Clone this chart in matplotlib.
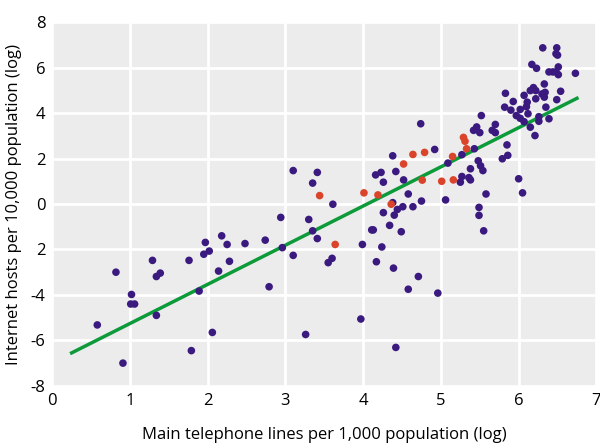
import matplotlib
matplotlib.use('Agg')
import matplotlib.pyplot as plt

# Purple points: telephone lines (log) vs internet hosts (log)
purple_x = [0.58, 0.82, 0.91, 1.02, 1.01, 1.06, 1.29, 1.34, 1.39, 1.34, 1.76, 1.79, 1.89,
            1.95, 1.97, 2.02, 2.06, 2.14, 2.18, 2.25, 2.28, 2.48, 2.74, 2.79, 2.94, 2.96,
            3.10, 3.10, 3.26, 3.30, 3.35, 3.35, 3.41, 3.41, 3.61, 3.55, 3.60, 3.97, 3.99,
            4.17, 4.11, 4.13, 4.24, 4.16, 4.23, 4.26, 4.26, 4.34, 4.38, 4.40, 4.44, 4.38,
            4.42, 4.39, 4.42, 4.52, 4.49, 4.51, 4.58, 4.58, 4.64, 4.71, 4.74, 4.75, 4.92,
            4.96, 5.06, 5.09, 5.25, 5.27, 5.27, 5.36, 5.38, 5.38, 5.43, 5.42, 5.46, 5.50,
            5.52, 5.48, 5.51, 5.54, 5.58, 5.49, 5.49, 5.55, 5.66, 5.70, 5.70, 5.79, 5.85,
            5.86, 5.82, 5.83, 5.90, 5.93, 5.97, 6.02, 6.02, 6.00, 6.05, 6.07, 6.07, 6.11,
            6.12, 6.10, 6.17, 6.15, 6.19, 6.22, 6.23, 6.15, 6.21, 6.22, 6.26, 6.26, 6.31,
            6.33, 6.34, 6.30, 6.33, 6.35, 6.39, 6.39, 6.44, 6.48, 6.51, 6.51, 6.49, 6.48,
            6.50, 6.49, 6.54, 6.73]
purple_y = [-5.32, -3.00, -7.00, -3.98, -4.40, -4.40, -2.48, -3.19, -3.04, -4.90, -2.48, -6.45, -3.83,
            -2.21, -1.69, -2.07, -5.65, -2.95, -1.40, -1.78, -2.52, -1.74, -1.59, -3.64, -0.59, -1.92,
            1.47, -2.26, -5.74, -0.68, -1.18, 0.92, 1.39, -1.52, -0.01, -2.58, -2.39, -5.06, -1.78,
            -2.54, -1.14, -1.14, -1.89, 1.28, 1.39, 0.96, -0.38, -0.94, 0.06, -0.49, -0.24, 2.12,
            1.43, -2.82, -6.31, 1.06, -1.22, -0.12, 0.44, -3.75, -0.12, -3.19, 3.53, 0.13, 2.40,
            -3.92, 0.18, 1.80, 0.96, 1.21, 2.17, 1.16, 1.06, 1.55, 2.43, 3.24, 3.39, 3.14,
            3.89, 1.90, 1.68, 1.47, 0.44, -0.15, -0.50, -1.18, 3.24, 3.50, 3.14, 1.99, 2.60,
            2.14, 4.26, 4.87, 4.13, 4.51, 3.89, 3.77, 4.16, 1.11, 0.49, 3.62, 4.78, 4.48,
            3.97, 4.28, 6.14, 4.99, 5.12, 4.99, 5.97, 3.38, 3.01, 4.63, 3.84, 3.64, 6.87,
            5.28, 4.91, 4.84, 4.70, 4.26, 3.75, 5.81, 5.81, 5.81, 6.03, 5.69, 6.87, 6.61,
            6.55, 4.59, 4.96, 5.75]

# Red (highlighted) points
red_x = [3.44, 3.64, 4.01, 4.19, 4.36, 4.52, 4.64, 4.76, 4.79, 5.01, 5.15, 5.16, 5.29, 5.31, 5.33]
red_y = [0.37, -1.78, 0.49, 0.40, -0.01, 1.76, 2.18, 1.05, 2.27, 1.00, 2.09, 1.06, 2.93, 2.76, 2.43]

# Fitted line end points
fit_x = [0.25, 6.75]
fit_y = [-6.55, 4.65]

x_ticks = [0, 1, 2, 3, 4, 5, 6, 7]
y_ticks = [8, 6, 4, 2, 0, -2, -4, -6, -8]
y_tick_labels = ['8', '6', '4', '2', '0', '2', '-4', '-6', '-8']

plt.rcParams['font.family'] = ['Open Sans', 'DejaVu Sans']

fig = plt.figure(figsize=(6, 4.43), dpi=100)
ax = fig.add_axes([0.087, 0.129, 0.907, 0.821])
ax.set_facecolor('#ececec')

ax.plot(fit_x, fit_y, color='#0d9a3a', linewidth=2.5, zorder=2)
ax.scatter(purple_x, purple_y, s=30, color='#3b1a80', edgecolors='none', zorder=3)
ax.scatter(red_x, red_y, s=30, color='#d9442b', edgecolors='none', zorder=3)

ax.set_xlim(0, 7)
ax.set_ylim(-8, 8)
ax.set_xticks(x_ticks)
ax.set_yticks(y_ticks)
ax.set_yticklabels(y_tick_labels)
ax.grid(True, color='white', linewidth=2)
ax.set_axisbelow(True)
for s in ax.spines.values():
    s.set_visible(False)
ax.tick_params(length=0, labelsize=12, pad=5)

ax.set_xlabel('Main telephone lines per 1,000 population (log)', fontsize=12, labelpad=13)
ax.set_ylabel('Internet hosts per 10,000 population (log)', fontsize=12, labelpad=6)

plt.savefig('out.png', dpi=100)
